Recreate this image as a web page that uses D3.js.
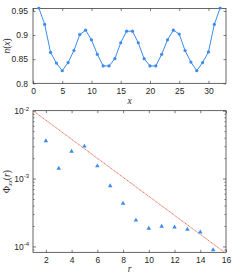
<!DOCTYPE html>
<html>
<head>
<meta charset="utf-8">
<script src="https://cdn.jsdelivr.net/npm/d3@7"></script>
<style>
  body { margin: 0; background: #fff; }
  text { font-family: "Liberation Sans", Arial, sans-serif; fill: #262626; }
  .axis path { display: none; }
  .axis line { stroke: #262626; stroke-width: 0.6; }
  .axis text { font-size: 8.5px; }
  .lbl { font-family: "Liberation Serif", "DejaVu Serif", serif; font-size: 9.5px; }
</style>
</head>
<body>
<svg id="canvas" width="249" height="275"></svg>
<script>
// top panel: n(x)
const xPos = d3.range(1, 33)
const nVals = [0.956, 0.922, 0.864, 0.842, 0.826, 0.843, 0.868, 0.901, 0.910, 0.890,
    0.860, 0.836, 0.836, 0.851, 0.884, 0.908, 0.908, 0.884, 0.851, 0.836,
    0.836, 0.860, 0.890, 0.910, 0.902, 0.868, 0.844, 0.826, 0.843, 0.865,
    0.922, 0.956]
const topXTicks = [0, 5, 10, 15, 20, 25, 30]
const topYTicks = [0.8, 0.85, 0.9, 0.95]

// bottom panel: Phi(r)
const rPos = d3.range(2, 16)
const phiVals = [3.58e-3, 1.41e-3, 2.52e-3, 2.99e-3, 1.53e-3, 7.8e-4, 4.3e-4,
    2.43e-4, 1.84e-4, 1.97e-4, 1.93e-4, 1.78e-4, 1.62e-4, 8.9e-5]
const fitR = [1, 16]
const fitPhi = [1e-2, 7.9e-5]
const botXTicks = [2, 4, 6, 8, 10, 12, 14, 16]
const botYTicks = [1e-4, 1e-3, 1e-2]

const svg = d3.select('#canvas')
const blue = '#3d8bea', red = '#e05a3f'

function box(g, x0, x1, y0, y1) {
    g.append('rect')
        .attr('x', x0).attr('y', y0)
        .attr('width', x1 - x0).attr('height', y1 - y0)
        .attr('fill', 'none').attr('stroke', '#262626').attr('stroke-width', 0.7)
}

// ---- top axes
const L = 33, R = 226
const x1 = d3.scaleLinear().domain([0, 33]).range([L, R])
const y1 = d3.scaleLinear().domain([0.8, 0.955]).range([83.3, 8.5])

const topG = svg.append('g')
topG.append('g').attr('class', 'axis').attr('transform', `translate(0,${y1.range()[0]})`)
    .call(d3.axisBottom(x1).tickValues(topXTicks).tickSizeInner(-2.5).tickSizeOuter(0).tickPadding(5))
topG.append('g').attr('class', 'axis').attr('transform', `translate(0,${y1.range()[1]})`)
    .call(d3.axisTop(x1).tickValues(topXTicks).tickSizeInner(-2.5).tickSizeOuter(0).tickFormat(''))
topG.append('g').attr('class', 'axis').attr('transform', `translate(${L},0)`)
    .call(d3.axisLeft(y1).tickValues(topYTicks).tickSizeInner(-2.5).tickSizeOuter(0).tickPadding(5)
        .tickFormat(d3.format('')))
topG.append('g').attr('class', 'axis').attr('transform', `translate(${R},0)`)
    .call(d3.axisRight(y1).tickValues(topYTicks).tickSizeInner(-2.5).tickSizeOuter(0).tickFormat(''))
box(topG, L, R, y1.range()[1], y1.range()[0])

svg.append('clipPath').attr('id', 'c1').append('rect')
    .attr('x', L).attr('y', y1.range()[1] - 2).attr('width', R - L).attr('height', 80)
const plot1 = topG.append('g').attr('clip-path', 'url(#c1)')
plot1.append('path')
    .datum(xPos.map((d, i) => [d, nVals[i]]))
    .attr('fill', 'none').attr('stroke', blue).attr('stroke-width', 1)
    .attr('d', d3.line().x(d => x1(d[0])).y(d => y1(d[1])))
plot1.selectAll('circle').data(xPos.map((d, i) => [d, nVals[i]])).enter()
    .append('circle')
    .attr('cx', d => x1(d[0])).attr('cy', d => y1(d[1])).attr('r', 1.6)
    .attr('fill', blue)

topG.append('text').attr('class', 'lbl').attr('x', (L + R) / 2).attr('y', 104)
    .attr('text-anchor', 'middle').attr('font-style', 'italic').text('x')
const nl = topG.append('text').attr('class', 'lbl')
    .attr('transform', `translate(10,${(y1.range()[0] + y1.range()[1]) / 2}) rotate(-90)`)
    .attr('text-anchor', 'middle')
nl.append('tspan').attr('font-style', 'italic').text('n')
nl.append('tspan').text('(')
nl.append('tspan').attr('font-style', 'italic').text('x')
nl.append('tspan').text(')')

// ---- bottom axes
const x2 = d3.scaleLinear().domain([1, 16]).range([L, R])
const y2 = d3.scaleLog().domain([8.2e-5, 1e-2]).range([252.3, 110.7])
const minor = []
;[1e-5, 1e-4, 1e-3].forEach(p => d3.range(2, 10).forEach(k => {
    const v = k * p
    if (v > y2.domain()[0] && v < y2.domain()[1]) minor.push(v)
}))

const bot = svg.append('g')
bot.append('g').attr('class', 'axis').attr('transform', `translate(0,${y2.range()[0]})`)
    .call(d3.axisBottom(x2).tickValues(botXTicks).tickSizeInner(-2.5).tickSizeOuter(0).tickPadding(5))
bot.append('g').attr('class', 'axis').attr('transform', `translate(0,${y2.range()[1]})`)
    .call(d3.axisTop(x2).tickValues(botXTicks).tickSizeInner(-2.5).tickSizeOuter(0).tickFormat(''))
const yl = bot.append('g').attr('class', 'axis').attr('transform', `translate(${L},0)`)
    .call(d3.axisLeft(y2).tickValues(botYTicks).tickSizeInner(-3).tickSizeOuter(0).tickPadding(8))
yl.selectAll('text').each(function(d) {
    const t = d3.select(this)
    t.text('10')
    t.append('tspan').attr('dy', '-0.55em').attr('font-size', '6px')
        .text(Math.round(Math.log10(d)))
})
yl.selectAll('text').attr('dx', 4)
bot.append('g').attr('class', 'axis').attr('transform', `translate(${L},0)`)
    .call(d3.axisLeft(y2).tickValues(minor).tickSizeInner(-1.5).tickSizeOuter(0).tickFormat(''))
bot.append('g').attr('class', 'axis').attr('transform', `translate(${R},0)`)
    .call(d3.axisRight(y2).tickValues(botYTicks).tickSizeInner(-3).tickSizeOuter(0).tickFormat(''))
bot.append('g').attr('class', 'axis').attr('transform', `translate(${R},0)`)
    .call(d3.axisRight(y2).tickValues(minor).tickSizeInner(-1.5).tickSizeOuter(0).tickFormat(''))
box(bot, L, R, y2.range()[1], y2.range()[0])

bot.append('path')
    .datum(fitR.map((d, i) => [d, fitPhi[i]]))
    .attr('fill', 'none').attr('stroke', red).attr('stroke-width', 0.9)
    .attr('stroke-dasharray', '1.2,0.6')
    .attr('d', d3.line().x(d => x2(d[0])).y(d => y2(d[1])))

const tri = d3.symbol().type(d3.symbolTriangle).size(9)
bot.selectAll('.tri').data(rPos.map((d, i) => [d, phiVals[i]])).enter()
    .append('path').attr('class', 'tri')
    .attr('transform', d => `translate(${x2(d[0])},${y2(d[1])})`)
    .attr('d', tri).attr('fill', blue)

bot.append('text').attr('class', 'lbl').attr('x', (L + R) / 2).attr('y', 272)
    .attr('text-anchor', 'middle').attr('font-style', 'italic').text('r')
const ylab = bot.append('text').attr('class', 'lbl')
    .attr('transform', `translate(10,${(y2.range()[0] + y2.range()[1]) / 2}) rotate(-90)`)
    .attr('text-anchor', 'middle')
ylab.append('tspan').text('Φ')
ylab.append('tspan').attr('font-size', 6.5).attr('dy', 2).attr('font-style', 'italic').text('xx')
ylab.append('tspan').attr('dy', -2).text('(')
ylab.append('tspan').attr('font-style', 'italic').text('r')
ylab.append('tspan').text(')')
</script>
</body>
</html>
